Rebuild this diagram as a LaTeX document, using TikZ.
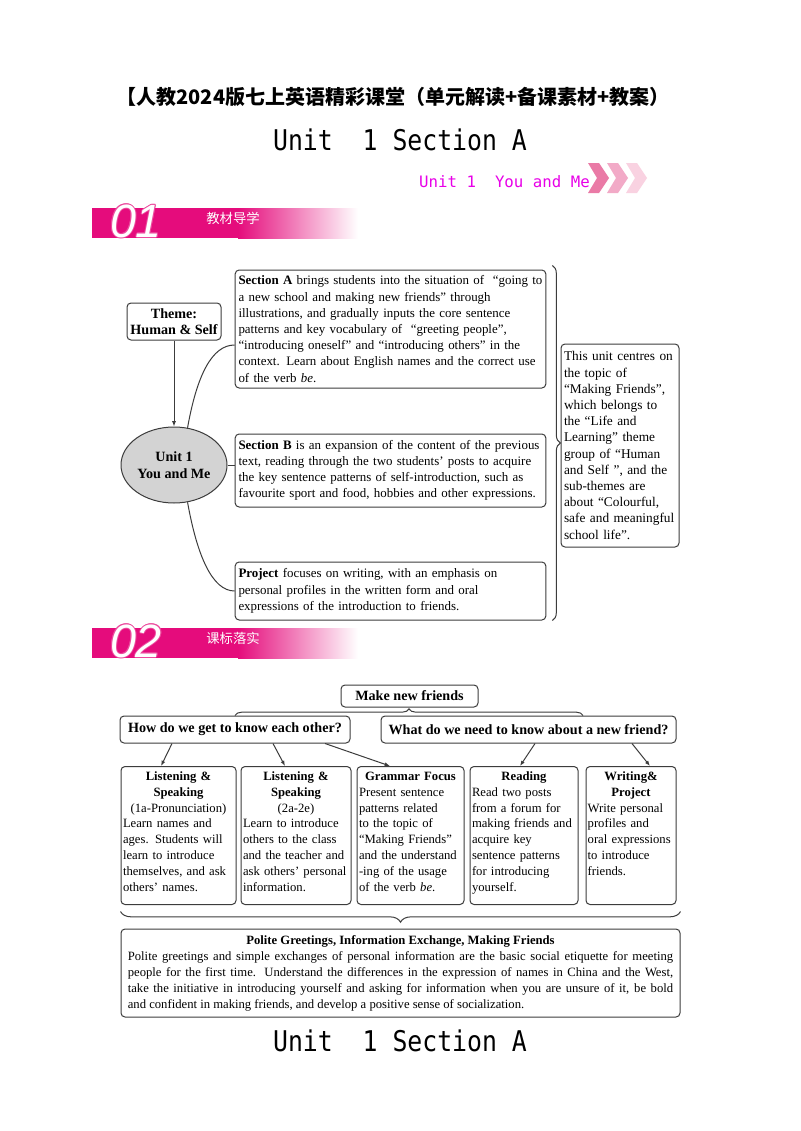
\documentclass[tikz,border=0pt]{standalone}
\usepackage{fontspec}
\setmainfont{Liberation Serif}
\newfontfamily\cjk{Noto Sans CJK SC}
\newfontfamily\monofont{DejaVu Sans Mono}
\newfontfamily\digitfont{Liberation Sans}
\usetikzlibrary{arrows.meta,shapes.geometric,decorations.pathreplacing}

\definecolor{bandpink}{RGB}{229,12,124}
\definecolor{unitpink}{RGB}{232,0,232}
\definecolor{chevdark}{RGB}{234,122,166}
\definecolor{chevmid}{RGB}{242,170,199}
\definecolor{chevlight}{RGB}{249,210,225}
\definecolor{ovalgray}{RGB}{211,211,211}
\definecolor{rule}{RGB}{60,60,60}

\newcommand\bodytxt{\fontsize{9.7}{12.15}\selectfont}
\newcommand\sidetxt{\fontsize{10}{12.15}\selectfont}
\newcommand\celltxt{\fontsize{9.5}{11.85}\selectfont}
\newcommand\headtxt{\fontsize{10.6}{12.4}\selectfont\bfseries}
\newcommand\fullline[1]{\hbox to 409pt{#1}}

\begin{document}
\begin{tikzpicture}[x=0.75pt,y=-0.75pt,>=Latex,
  box/.style={draw=rule,line width=0.75pt,rounded corners=3pt,inner xsep=2.5pt,inner ysep=3pt},
  textbox/.style={box,font=\bodytxt,text width=#1},
  cell/.style={box,font=\celltxt,text width=#1,inner xsep=1.5pt,text height=7.5pt,text depth=90pt,anchor=north},
  link/.style={draw=rule,line width=0.75pt},
  arr/.style={link,-{Latex[length=4pt,width=3pt]}},
  brace/.style={link,decorate,decoration={brace,amplitude=#1}}]
\useasboundingbox (0,0) rectangle (800,1131);
\fill[white] (0,0) rectangle (800,1131);

% page heading
\node[font=\cjk\bfseries\fontsize{15}{17}\selectfont] (header) at (393,97) {【人教2024版七上英语精彩课堂（单元解读+备课素材+教案）};
\node[font=\monofont\fontsize{18.6}{20}\selectfont] (title) at (400,140) {\scalebox{1}[1.15]{Unit\ \ 1 Section A}};
\foreach \x/\c in {588/chevdark,607/chevmid,626/chevlight}
  \fill[\c] (\x,163) -- ++(11,0) -- ++(10,15) -- ++(-10,15) -- ++(-11,0) -- ++(9,-15) -- cycle;
\node[font=\monofont\fontsize{11.8}{14}\selectfont,text=unitpink,anchor=east,inner sep=0pt] (unitname) at (590,182) {Unit 1\ \ You and Me};

% section bands
\foreach \y/\num/\label in {208/01/教材导学,628/02/课标落实} {
  \fill[bandpink] (92,\y) rectangle (238,\y+30);
  \shade[left color=bandpink,right color=white] (238,\y) rectangle (358,\y+30);
  \foreach \dx/\dy in {-1/0,1/0,0/-1,0/1,-0.7/-0.7,0.7/0.7,-0.7/0.7,0.7/-0.7}
    \node[font=\digitfont\itshape\fontsize{35}{35}\selectfont,text=bandpink!75] at (136+\dx,\y+13+\dy) {\num};
  \node[font=\digitfont\itshape\fontsize{35}{35}\selectfont,text=white] (num\num) at (136,\y+13) {\num};
  \node[font=\cjk\fontsize{10}{12}\selectfont,text=white] (lbl\num) at (233,\y+10) {\label};
}

% part 1
\node[box,font=\headtxt,align=center,minimum width=70.5pt,minimum height=27.75pt,inner sep=1pt] (theme) at (174,321.5) {Theme:\\Human \& Self};
\node[draw=rule,line width=0.75pt,ellipse,fill=ovalgray,font=\headtxt,align=center,minimum width=79.5pt,minimum height=57pt,inner sep=0pt] (unit) at (174,465) {Unit 1\\You and Me};
\node[textbox=228pt,minimum height=88.5pt] (secA) at (390.5,329) {\raggedright\textbf{Section A} brings students into the situation of\ \ “going to\\
a new school and making new friends” through\\
illustrations, and gradually inputs the core sentence\\
patterns and key vocabulary of\ \ “greeting people”,\\
“introducing oneself” and “introducing others” in the\\
context. Learn about English names and the correct use\\
of the verb \emph{be}.};
\node[textbox=228pt,minimum height=54.75pt] (secB) at (390.5,470.5) {\raggedright\textbf{Section B} is an expansion of the content of the previous\\
text, reading through the two students’ posts to acquire\\
the key sentence patterns of self-introduction, such as\\
favourite sport and food, hobbies and other expressions.};
\node[textbox=228pt,minimum height=43.5pt] (proj) at (390.5,591) {\raggedright\textbf{Project} focuses on writing, with an emphasis on\\
personal profiles in the written form and oral\\
expressions of the introduction to friends.};
\node[textbox=84pt,font=\sidetxt,inner xsep=2.25pt,minimum height=152.25pt] (topic) at (620,445.5) {\raggedright This unit centres on\\the topic of\\“Making Friends”,\\which belongs to\\the “Life and\\Learning” theme\\group of “Human\\and Self ”, and the\\sub-themes are\\about “Colourful,\\safe and meaningful\\school life”.};

\draw[arr] (theme) -- (unit);
\draw[link] (unit.70) .. controls (197,375) and (212,345) .. ([yshift=-12pt]secA.west);
\draw[link] (unit.east) -- (unit.east -| secB.west);
\draw[link] (unit.-70) .. controls (197,555) and (212,591) .. (proj.west);
\draw[brace=6pt] ([xshift=4.5pt,yshift=3pt]secA.north east) -- ([xshift=4.5pt]proj.south east);

% part 2
\node[box,font=\headtxt,inner sep=2pt,minimum width=102.75pt,minimum height=16.5pt] (make) at (409.5,696) {Make new friends};
\node[box,font=\headtxt,inner sep=2pt,minimum width=172.5pt,minimum height=20.25pt] (how) at (235,729.5) {How do we get to know each other?};
\node[box,font=\headtxt,inner sep=2pt,minimum width=221.25pt,minimum height=20.25pt] (what) at (528.5,729.5) {What do we need to know about a new friend?};
\draw[brace=5pt] (how.north) -- ([xshift=40.9pt]what.north);

\node[cell=83.25pt] (ls1) at (178.5,766) {\centering\textbf{Listening \&}\\\textbf{Speaking}\\(1a-Pronunciation)\par\raggedright Learn names and\\ages. Students will\\learn to introduce\\themselves, and ask\\others’ names.};
\node[cell=79.5pt] (ls2) at (296,766) {\centering\textbf{Listening \&}\\\textbf{Speaking}\\(2a-2e)\par\raggedright Learn to introduce\\others to the class\\and the teacher and\\ask others’ personal\\information.};
\node[cell=77.25pt] (gram) at (410.5,766) {\centering\textbf{Grammar Focus}\par\raggedright Present sentence\\patterns related\\to the topic of\\“Making Friends”\\and the understand\\-ing of the usage\\of the verb \emph{be}.};
\node[cell=78pt] (read) at (524,766) {\centering\textbf{Reading}\par\raggedright Read two posts\\from a forum for\\making friends and\\acquire key\\sentence patterns\\for introducing\\yourself.};
\node[cell=65pt,inner xsep=1.25pt] (write) at (631,766) {\centering\textbf{Writing\&}\\\textbf{Project}\par\raggedright Write personal\\profiles and\\oral expressions\\to introduce\\friends.};

\draw[arr] ([xshift=-47.25pt]how.south) -- ([xshift=-13.1pt]ls1.north);
\draw[arr] ([xshift=28.5pt]how.south) -- ([xshift=-8.25pt]ls2.north);
\draw[arr] ([xshift=67.5pt]how.south) -- ([xshift=-15.4pt]gram.north);
\draw[arr] ([xshift=4.9pt]what.south) -- ([xshift=-3pt]read.north);
\draw[arr] ([xshift=77.6pt]what.south) -- ([xshift=14.25pt]write.north);

\node[box,font=\fontsize{9.5}{12}\selectfont,align=center,minimum width=419.25pt,minimum height=66pt] (polite) at (400.5,973) {\textbf{Polite Greetings, Information Exchange, Making Friends}\\
\fullline{Polite greetings and simple exchanges of personal information are the basic social etiquette for meeting}\\
\fullline{people for the first time. Understand the differences in the expression of names in China and the West,}\\
\fullline{take the initiative in introducing yourself and asking for information when you are unsure of it, be bold}\\
\fullline{and confident in making friends, and develop a positive sense of socialization.\hfil}};
\draw[brace=8pt] ([yshift=12.75pt]polite.north east) -- ([yshift=12.75pt]polite.north west);

\node[font=\monofont\fontsize{18.6}{20}\selectfont] (foot) at (400,1041) {\scalebox{1}[1.15]{Unit\ \ 1 Section A}};
\end{tikzpicture}
\end{document}
